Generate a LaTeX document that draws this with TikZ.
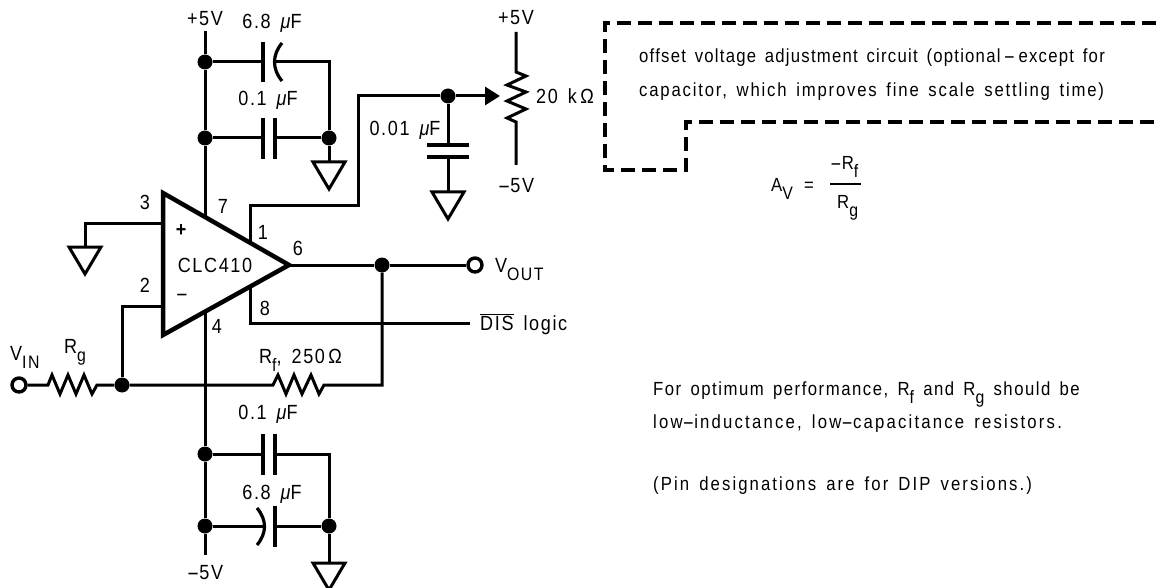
\documentclass[tikz,border=0pt]{standalone}
\usepackage{fontspec}
\setmainfont{Liberation Sans}[LetterSpace=8,FakeStretch=0.88,WordSpace=1.5]
\usetikzlibrary{arrows.meta}
\tikzset{
  wire/.style={line width=3pt},
  plate/.style={line width=3.2pt},
  amp/.style={line width=4.5pt,line join=miter},
  gnd/.style={line width=3pt,line join=miter},
  dashbox/.style={line width=3.8pt,dash pattern=on 14pt off 7pt},
  dotnode/.style={circle,fill=black,inner sep=0pt,minimum size=15pt},
  termnode/.style={circle,draw,fill=white,line width=3.4pt,inner sep=0pt,minimum size=14pt},
  lbl/.style={inner sep=0pt,font=\fontsize{20.5}{24}\selectfont},
  note/.style={inner sep=0pt,anchor=base west,font=\fontsize{19}{22}\selectfont}
}
\newcommand{\grnd}[1]{\draw[gnd] (#1) ++(-16,0) -- ++(32,0) -- ++(-16,27) -- cycle;}
\newcommand{\mufarad}{{\itshape μ}F}
\newcommand{\lowered}[1]{\raisebox{-8pt}{\fontsize{18}{20}\selectfont #1}}
\newcommand{\longdash}{\scalebox{2.1}[1]{-}}
\newcommand{\spaced}[1]{\addfontfeatures{LetterSpace=#1}}
\begin{document}
\begin{tikzpicture}[x=1pt,y=-1pt]
\useasboundingbox (0,0) rectangle (1156,588);
% op amp
\draw[amp] (163,193) -- (289,265) -- (163,335) -- cycle;
\node[lbl] (plus) at (182,230) {\textbf{+}};
\node[lbl] (minus) at (182,297) {\longdash};
\node[lbl] (ampname) at (215,265) {CLC410};
\coordinate (pinthree) at (163,223);
\coordinate (pintwo) at (163,306);
\coordinate (pinseven) at (205,217);
\coordinate (pinfour) at (205,311);
\coordinate (pinone) at (250,243);
\coordinate (pineight) at (250,287);
\coordinate (pinsix) at (289,265);
\node[lbl] at (145,202) {3};
\node[lbl] at (145,285) {2};
\node[lbl] at (223,206) {7};
\node[lbl] at (263,232) {1};
\node[lbl] at (298,248) {6};
\node[lbl] at (265,308) {8};
\node[lbl] at (217,326) {4};
% upper supply
\coordinate (topv) at (205,31);
\node[dotnode] (upone) at (205,62) {};
\node[dotnode] (uptwo) at (205,138) {};
\node[dotnode] (upgnd) at (329,138) {};
\coordinate (upcorner) at (329,62);
\coordinate (upfoot) at (329,162);
\node[lbl] at (205,19) {+5V};
\node[lbl] at (272,23) {6.8 \mufarad};
\node[lbl] at (268,100) {0.1 \mufarad};
\draw[wire] (topv) -- (upone) -- (uptwo) -- (pinseven);
\draw[wire] (upone) -- (263,62);
\draw[wire] (276,62) -- (upcorner) -- (upgnd) -- (upfoot);
\draw[wire] (uptwo) -- (263,138);
\draw[wire] (275,138) -- (upgnd);
\draw[plate] (263,42) -- (263,82);
\draw[plate] (282,43) .. controls (272,55) and (272,69) .. (282,81);
\draw[plate] (263,118) -- (263,159);
\draw[plate] (275,118) -- (275,159);
\grnd{upfoot}
% non inverting input
\coordinate (threecorner) at (85,223);
\coordinate (threefoot) at (85,247);
\draw[wire] (pinthree) -- (threecorner) -- (threefoot);
\grnd{threefoot}
% offset adjustment
\coordinate (onetop) at (250,206);
\coordinate (onemid) at (358,206);
\coordinate (onecorner) at (358,96);
\node[dotnode] (offset) at (448,96) {};
\coordinate (wiper) at (500,96);
\coordinate (offfoot) at (448,192);
\coordinate (pottop) at (516,32);
\coordinate (potbot) at (516,165);
\draw[wire] (pinone) -- (onetop) -- (onemid) -- (onecorner) -- (offset);
\draw[wire,-{Triangle[length=15pt,width=18pt]}] (offset) -- (wiper);
\draw[wire] (offset) -- (448,145);
\draw[wire] (448,157) -- (offfoot);
\draw[plate] (427,145) -- (469,145);
\draw[plate] (427,157) -- (469,157);
\grnd{offfoot}
\draw[wire] (pottop) -- (516,72) -- (526,76) -- (507,85) -- (526,92) -- (507,101) -- (526,109) -- (507,118) -- (516,122) -- (potbot);
\node[lbl] at (516,18) {+5V};
\node[lbl] at (516,186) {\longdash 5V};
\node[lbl] at (565,96) {20 k$\,$Ω};
\node[lbl] at (405,130) {0.01 \mufarad};
% output and feedback
\node[dotnode] (outdot) at (382,265) {};
\node[termnode] (vout) at (475,265) {};
\coordinate (fbcorner) at (382,385);
\coordinate (eightcorner) at (250,323);
\coordinate (disend) at (470,323);
\draw[wire] (pinsix) -- (outdot) -- (vout);
\draw[wire] (pineight) -- (eightcorner) -- (disend);
\node[lbl,anchor=base west] at (495,272) {V\lowered{OUT}};
\node[lbl,anchor=base west] at (480,330) {$\overline{\mbox{DIS}}$ logic};
% input and resistors
\node[termnode] (vin) at (19,385) {};
\node[dotnode] (sum) at (122,385) {};
\coordinate (twocorner) at (122,306);
\draw[wire] (vin) -- (48,385) -- (52,375) -- (60,394) -- (68,375) -- (76,394) -- (84,375) -- (92,394) -- (97,385) -- (sum);
\draw[wire] (pintwo) -- (twocorner) -- (sum);
\draw[wire] (sum) -- (273,385) -- (278,375) -- (286,394) -- (294,375) -- (302,394) -- (311,375) -- (319,394) -- (324,385) -- (fbcorner) -- (outdot);
\node[lbl,anchor=base west] at (10,360) {V\lowered{IN}};
\node[lbl,anchor=base west] at (64,353) {R\lowered{g}};
\node[lbl,anchor=base west] at (259,363) {R\lowered{f}, 250$\,$Ω};
% lower supply
\node[dotnode] (lowone) at (205,454) {};
\node[dotnode] (lowtwo) at (205,526) {};
\node[dotnode] (lowgnd) at (329,526) {};
\coordinate (lowcorner) at (329,454);
\coordinate (lowfoot) at (329,563);
\coordinate (botv) at (205,555);
\draw[wire] (pinfour) -- (lowone) -- (lowtwo) -- (botv);
\draw[wire] (lowone) -- (263,454);
\draw[wire] (275,454) -- (lowcorner) -- (lowgnd) -- (lowfoot);
\draw[wire] (lowtwo) -- (264,526);
\draw[wire] (275,526) -- (lowgnd);
\draw[plate] (263,434) -- (263,475);
\draw[plate] (275,434) -- (275,475);
\draw[plate] (257,508) .. controls (267,520) and (267,533) .. (257,545);
\draw[plate] (275,506) -- (275,547);
\grnd{lowfoot}
\node[lbl] at (268,414) {0.1 \mufarad};
\node[lbl] at (272,494) {6.8 \mufarad};
\node[lbl] at (205,573) {\longdash 5V};
% dashed region
\draw[dashbox] (1156,23) -- (605,23) -- (605,170) -- (686,170) -- (686,122) -- (1156,122);
\node[note] (offone) at (639,63) {\spaced{6.5}offset voltage adjustment circuit (optional\,\longdash\,except for};
\node[note] (offtwo) at (639,97) {\spaced{9.5}capacitor, which improves fine scale settling time)};
% gain
\node[note] (gain) at (771,192) {A\lowered{V}};
\node[note] at (804,192) {=};
\node[note] (numer) at (830,170) {\longdash R\lowered{f}};
\node[note] (denom) at (837,208) {R\lowered{g}};
\draw[line width=2pt] (830,184) -- (861,184);
% remarks
\node[note] at (653,395) {For optimum performance, R\lowered{f} and R\lowered{g} should be};
\node[note] at (653,428) {\spaced{11.5}low\longdash inductance, low\longdash capacitance resistors.};
\node[note] at (653,490) {\spaced{11}(Pin designations are for DIP versions.)};
\end{tikzpicture}
\end{document}
